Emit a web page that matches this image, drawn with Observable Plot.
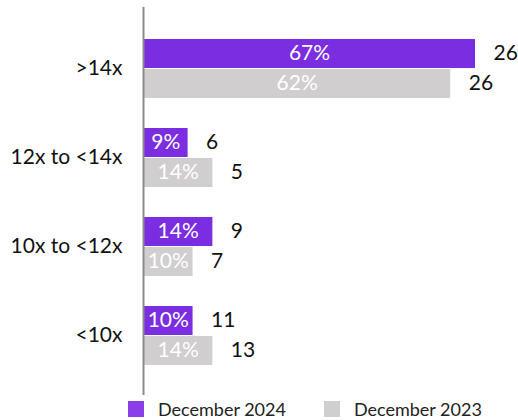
<!DOCTYPE html>
<html>
<head>
<meta charset="utf-8">
<script src="https://cdn.jsdelivr.net/npm/d3@7"></script>
<script src="https://cdn.jsdelivr.net/npm/@observablehq/plot@0.6"></script>
<style>
  html, body { margin: 0; padding: 0; background: #fff; }
  #wrap { width: 518px; height: 420px; font-family: Lato, "Noto Sans", sans-serif; overflow: hidden; }
  .legend { display: flex; align-items: center; height: 23px; padding-left: 128px; font-size: 18px; color: #222; white-space: nowrap; }
  .sw { width: 16px; height: 16px; display: inline-block; margin-right: 14px; flex-shrink: 0; }
  .item { display: flex; align-items: center; margin-right: 38px; flex-shrink: 0; white-space: nowrap; }
</style>
</head>
<body>
<div id="wrap"></div>
<script>
const categories = [">14x", "12x to <14x", "10x to <12x", "<10x"];
const series = ["December 2024", "December 2023"];
const pct2024 = [67, 9, 14, 10];
const pct2023 = [62, 14, 10, 14];
const count2024 = [26, 6, 9, 11];
const count2023 = [26, 5, 7, 13];
const colors = ["#7B2DE2", "#D0CECF"];

const d2024 = categories.map((c, i) => ({category: c, series: series[0], pct: pct2024[i], count: count2024[i]}));
const d2023 = categories.map((c, i) => ({category: c, series: series[1], pct: pct2023[i], count: count2023[i]}));

const chart = Plot.plot({
  width: 518,
  height: 397,
  marginLeft: 143,
  marginRight: 43,
  marginTop: 7,
  marginBottom: 2,
  style: {fontFamily: "Lato, 'Noto Sans', sans-serif", fontSize: "21px", color: "#111", background: "white"},
  x: {domain: [0, 67], axis: null},
  y: {domain: categories, paddingInner: 0, paddingOuter: 0.156, tickSize: 0, tickPadding: 21, label: null},
  color: {domain: series, range: colors},
  marks: [
    Plot.barX(d2024, {x: "pct", y: "category", fill: "series", insetTop: 16, insetBottom: 44}),
    Plot.barX(d2023, {x: "pct", y: "category", fill: "series", insetTop: 46, insetBottom: 14}),
    Plot.text(d2024, {x: d => d.pct / 2, y: "category", text: d => d.pct + "%", fill: "white", fontSize: 21, dy: -14.5}),
    Plot.text(d2023, {x: d => d.pct / 2, y: "category", text: d => d.pct + "%", fill: "white", fontSize: 21, dy: 15.5}),
    Plot.text(d2024, {x: "pct", y: "category", text: d => String(d.count), fill: "#111", fontSize: 21, textAnchor: "start", dx: 18, dy: -14.5}),
    Plot.text(d2023, {x: "pct", y: "category", text: d => String(d.count), fill: "#111", fontSize: 21, textAnchor: "start", dx: 18, dy: 15.5}),
    Plot.ruleX([0], {stroke: "#8c8c8c", strokeWidth: 2})
  ]
});

const wrap = document.getElementById("wrap");
wrap.appendChild(chart);
const legend = document.createElement("div");
legend.className = "legend";
series.forEach((s, i) => {
  const item = document.createElement("span");
  item.className = "item";
  const sw = document.createElement("span");
  sw.className = "sw";
  sw.style.background = i === 0 ? "#8A3FE8" : colors[1];
  item.appendChild(sw);
  item.appendChild(document.createTextNode(s));
  legend.appendChild(item);
});
wrap.appendChild(legend);
</script>
</body>
</html>
